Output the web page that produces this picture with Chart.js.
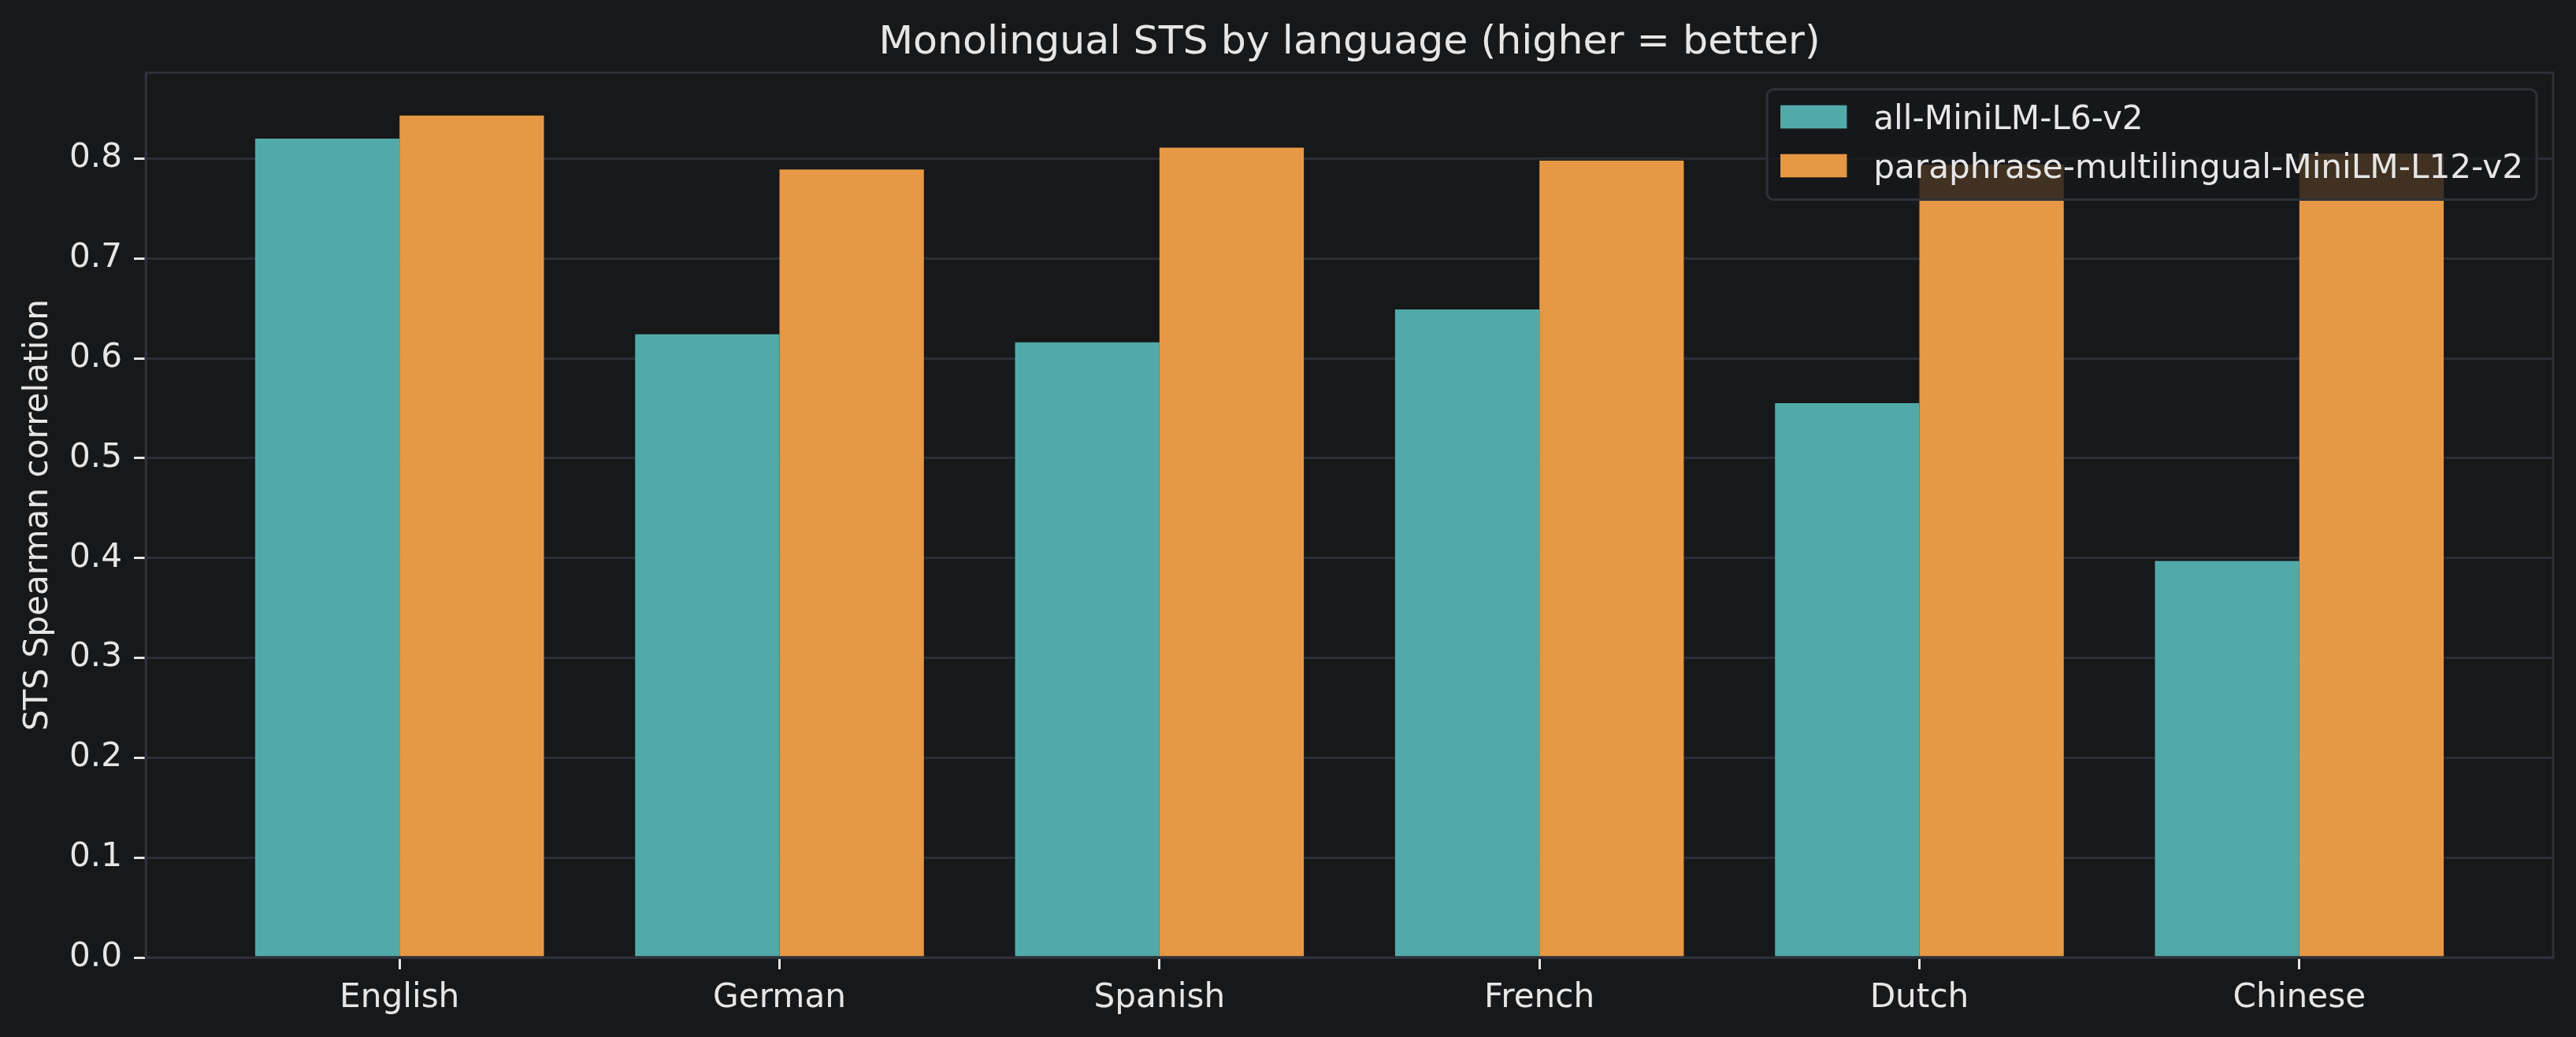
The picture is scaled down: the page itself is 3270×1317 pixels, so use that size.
<!DOCTYPE html>
<html><head><meta charset="utf-8">
<script src="https://cdn.jsdelivr.net/npm/chart.js@4/dist/chart.umd.min.js"></script>
<style>html,body{margin:0;padding:0;background:#17181a;} canvas{display:block;}</style>
</head><body>
<canvas id="c" width="3270" height="1317"></canvas>
<script>
// ---- data ----
const categories = ['English', 'German', 'Spanish', 'French', 'Dutch', 'Chinese'];
const seriesNames = ['all-MiniLM-L6-v2', 'paraphrase-multilingual-MiniLM-L12-v2'];
const allMiniLM = [0.820, 0.624, 0.616, 0.649, 0.555, 0.397];
const multilingualMiniLM = [0.843, 0.789, 0.811, 0.798, 0.794, 0.805];
const yTickValues = [0.0, 0.1, 0.2, 0.3, 0.4, 0.5, 0.6, 0.7, 0.8];
const titleText = 'Monolingual STS by language (higher = better)';
const yAxisLabel = 'STS Spearman correlation';

// ---- style ----
const FONT = "'DejaVu Sans', sans-serif";
const BG = '#17181a';
const TEXT = '#e6e6e6';
const GRID = '#2a2e35';
const SPINE = '#2d3139';
const COLORS = ['#52aaa8', '#e69845'];
const FS = 42.2;

Chart.defaults.font.family = FONT;

const toPoints = arr => arr.map((v, i) => ({x: i, y: v}));

const bgPlugin = {
  id: 'bg',
  beforeDraw(chart) {
    const c = chart.ctx;
    c.save(); c.fillStyle = BG; c.fillRect(0, 0, chart.width, chart.height); c.restore();
  }
};

const framePlugin = {
  id: 'frame',
  afterDatasetsDraw(chart) {
    const c = chart.ctx, a = chart.chartArea;
    c.save();
    c.strokeStyle = SPINE; c.lineWidth = 3;
    c.beginPath();
    c.moveTo(a.left, a.bottom); c.lineTo(a.left, a.top); c.lineTo(a.right, a.top);
    c.lineTo(a.right, a.bottom); c.lineTo(a.left, a.bottom);
    c.stroke();
    c.restore();
  }
};

const legendPlugin = {
  id: 'mplLegend',
  afterDraw(chart) {
    const c = chart.ctx, a = chart.chartArea;
    c.save();
    c.font = FS + 'px ' + FONT;
    const labels = chart.data.datasets.map(d => d.label);
    const tw = Math.max(...labels.map(t => c.measureText(t).width));
    const pad = 0.4 * FS, hl = 2 * FS, htp = 0.8 * FS;
    const w = pad + hl + htp + tw + pad;
    const h = 3.32 * FS;
    const right = a.right - 0.5 * FS, top = a.top + 0.5 * FS;
    const left = right - w;
    c.beginPath();
    c.roundRect(left, top, w, h, 8);
    c.fillStyle = 'rgba(23,24,26,0.8)';
    c.fill();
    c.lineWidth = 3; c.strokeStyle = SPINE; c.stroke();
    const rows = [top + 0.83 * FS, top + 2.3 * FS];
    chart.data.datasets.forEach((d, i) => {
      const cy = rows[i];
      c.fillStyle = d.backgroundColor;
      c.fillRect(left + pad, cy - 0.35 * FS, hl, 0.7 * FS);
      c.fillStyle = TEXT;
      c.textBaseline = 'alphabetic';
      c.textAlign = 'left';
      c.fillText(d.label, left + pad + hl + htp, cy + 0.36 * FS);
    });
    c.restore();
  }
};

new Chart(document.getElementById('c'), {
  type: 'bar',
  data: {
    datasets: [
      {label: seriesNames[0], data: toPoints(allMiniLM), backgroundColor: COLORS[0], borderWidth: 0},
      {label: seriesNames[1], data: toPoints(multilingualMiniLM), backgroundColor: COLORS[1], borderWidth: 0}
    ]
  },
  options: {
    responsive: false,
    animation: false,
    devicePixelRatio: 1,
    datasets: {bar: {categoryPercentage: 0.76, barPercentage: 1.0}},
    layout: {padding: {left: 0, right: 29, top: 0, bottom: 0}},
    plugins: {
      legend: {display: false},
      tooltip: {enabled: false},
      title: {
        display: true, text: titleText, color: TEXT, fullSize: false,
        font: {size: 50.6, weight: 'normal', family: FONT, lineHeight: 1.2},
        padding: {top: 24, bottom: 7.6}
      }
    },
    scales: {
      x: {
        type: 'linear', offset: false,
        min: -0.668, max: categories.length - 1 + 0.668,
        afterBuildTicks: s => { s.ticks = categories.map((_, i) => ({value: i})); },
        afterFit: s => { s.height = 101; },
        ticks: {
          color: TEXT, font: {size: FS, family: FONT}, padding: 12,
          autoSkip: false, maxRotation: 0,
          callback: v => categories[v]
        },
        grid: {drawOnChartArea: false, drawTicks: true, tickLength: 15, tickColor: TEXT, tickWidth: 3, offset: false},
        border: {color: SPINE, width: 3}
      },
      y: {
        min: 0, max: 0.886,
        afterBuildTicks: s => { s.ticks = yTickValues.map(v => ({value: v})); },
        afterFit: s => { s.width = 185; },
        ticks: {
          color: TEXT, font: {size: FS, family: FONT}, padding: 15,
          callback: v => Number(v).toFixed(1)
        },
        grid: {color: GRID, lineWidth: 3, drawTicks: true, tickLength: 15, tickColor: TEXT, tickWidth: 3},
        border: {color: SPINE, width: 3},
        title: {
          display: true, text: yAxisLabel, color: TEXT,
          font: {size: FS, family: FONT, lineHeight: 1.2}, padding: {top: 24, bottom: 0}
        }
      }
    }
  },
  plugins: [bgPlugin, framePlugin, legendPlugin]
});
</script>
</body></html>
